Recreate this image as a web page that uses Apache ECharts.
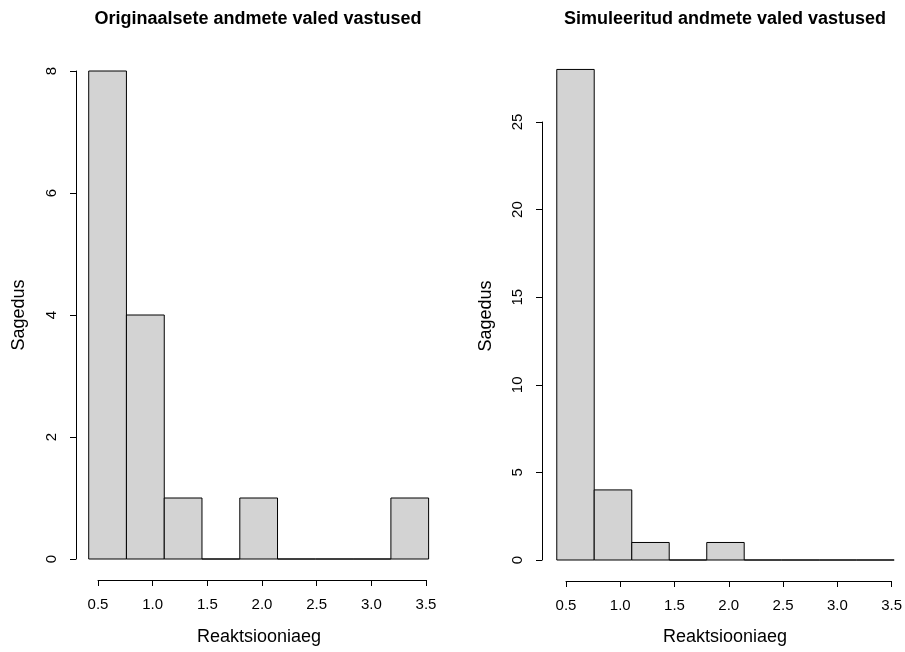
<!DOCTYPE html>
<html>
<head>
<meta charset="utf-8">
<script src="https://cdn.jsdelivr.net/npm/echarts@6/dist/echarts.min.js"></script>
<style>html,body{margin:0;padding:0;background:#fff;}#c{width:905px;height:652px;}</style>
</head>
<body>
<div id="c"></div>
<script>
// Histogram bin edges (shared by both panels)
var breaks = [0.415, 0.760, 1.106, 1.451, 1.797, 2.142, 2.488, 2.833, 3.179, 3.524];
// Counts per bin
var countsOriginal = [8, 4, 1, 0, 1, 0, 0, 0, 1];
var countsSimulated = [28, 4, 1, 0, 1, 0, 0, 0, 0];
// Axis ticks
var xTicks = [0.5, 1.0, 1.5, 2.0, 2.5, 3.0, 3.5];
var yTicksOriginal = [0, 2, 4, 6, 8];
var yTicksSimulated = [0, 5, 10, 15, 20, 25];
var titles = ['Originaalsete andmete valed vastused', 'Simuleeritud andmete valed vastused'];
var xLabel = 'Reaktsiooniaeg';
var yLabel = 'Sagedus';

function toData(counts) {
  var d = [];
  for (var i = 0; i < counts.length; i++) d.push([breaks[i], breaks[i + 1], counts[i]]);
  return d;
}
function renderBin(params, api) {
  var p0 = api.coord([api.value(0), api.value(2)]);
  var p1 = api.coord([api.value(1), 0]);
  return {
    type: 'rect',
    shape: { x: p0[0], y: p0[1], width: p1[0] - p0[0], height: p1[1] - p0[1] },
    style: { fill: '#d3d3d3', stroke: '#000', lineWidth: 1 }
  };
}
var FONT = '"Liberation Sans", Arial, sans-serif';
function xAxisCfg(gi) {
  return {
    gridIndex: gi, type: 'value',
    min: xTicks[0], max: xTicks[xTicks.length - 1], interval: xTicks[1] - xTicks[0],
    offset: 21,
    axisLine: { show: true, onZero: false, lineStyle: { color: '#000', width: 1 } },
    axisTick: { show: true, length: 6, inside: false, lineStyle: { color: '#000' } },
    axisLabel: { show: true, margin: 17, color: '#000', fontSize: 15, fontFamily: FONT,
      formatter: function (v) { return v.toFixed(1); } },
    splitLine: { show: false }
  };
}
function yAxisCfg(gi, ticks, off) {
  return {
    gridIndex: gi, type: 'value',
    min: ticks[0], max: ticks[ticks.length - 1], interval: ticks[1] - ticks[0],
    offset: off,
    axisLine: { show: true, onZero: false, lineStyle: { color: '#000', width: 1 } },
    axisTick: { show: true, length: 6, inside: false, lineStyle: { color: '#000' } },
    axisLabel: { show: true, rotate: 90, margin: 17, color: '#000', fontSize: 15, fontFamily: FONT },
    splitLine: { show: false }
  };
}
function txt(text, x, y, size, bold, rot) {
  return {
    type: 'text', x: x, y: y, rotation: rot || 0,
    style: { text: text, font: (bold ? 'bold ' : '') + size + 'px ' + FONT,
      textAlign: 'center', textVerticalAlign: 'middle', fill: '#000' }
  };
}
var chart = echarts.init(document.getElementById('c'), null, { renderer: 'canvas' });
chart.setOption({
  backgroundColor: '#fff',
  animation: false,
  grid: [
    { left: 98, top: 71, width: 328, height: 488 },
    { left: 566, top: 122, width: 327, height: 438 }
  ],
  xAxis: [xAxisCfg(0), xAxisCfg(1)],
  yAxis: [yAxisCfg(0, yTicksOriginal, 22), yAxisCfg(1, yTicksSimulated, 24)],
  series: [
    { type: 'custom', xAxisIndex: 0, yAxisIndex: 0, clip: false, renderItem: renderBin, data: toData(countsOriginal), encode: { x: [0, 1], y: 2 } },
    { type: 'custom', xAxisIndex: 1, yAxisIndex: 1, clip: false, renderItem: renderBin, data: toData(countsSimulated), encode: { x: [0, 1], y: 2 } }
  ],
  graphic: [
    txt(titles[0], 258, 19, 18, true),
    txt(titles[1], 725, 19, 18, true),
    txt(xLabel, 259, 637, 18, false),
    txt(xLabel, 725, 637, 18, false),
    txt(yLabel, 19, 315, 18, false, Math.PI / 2),
    txt(yLabel, 486, 316, 18, false, Math.PI / 2)
  ]
});
</script>
</body>
</html>
